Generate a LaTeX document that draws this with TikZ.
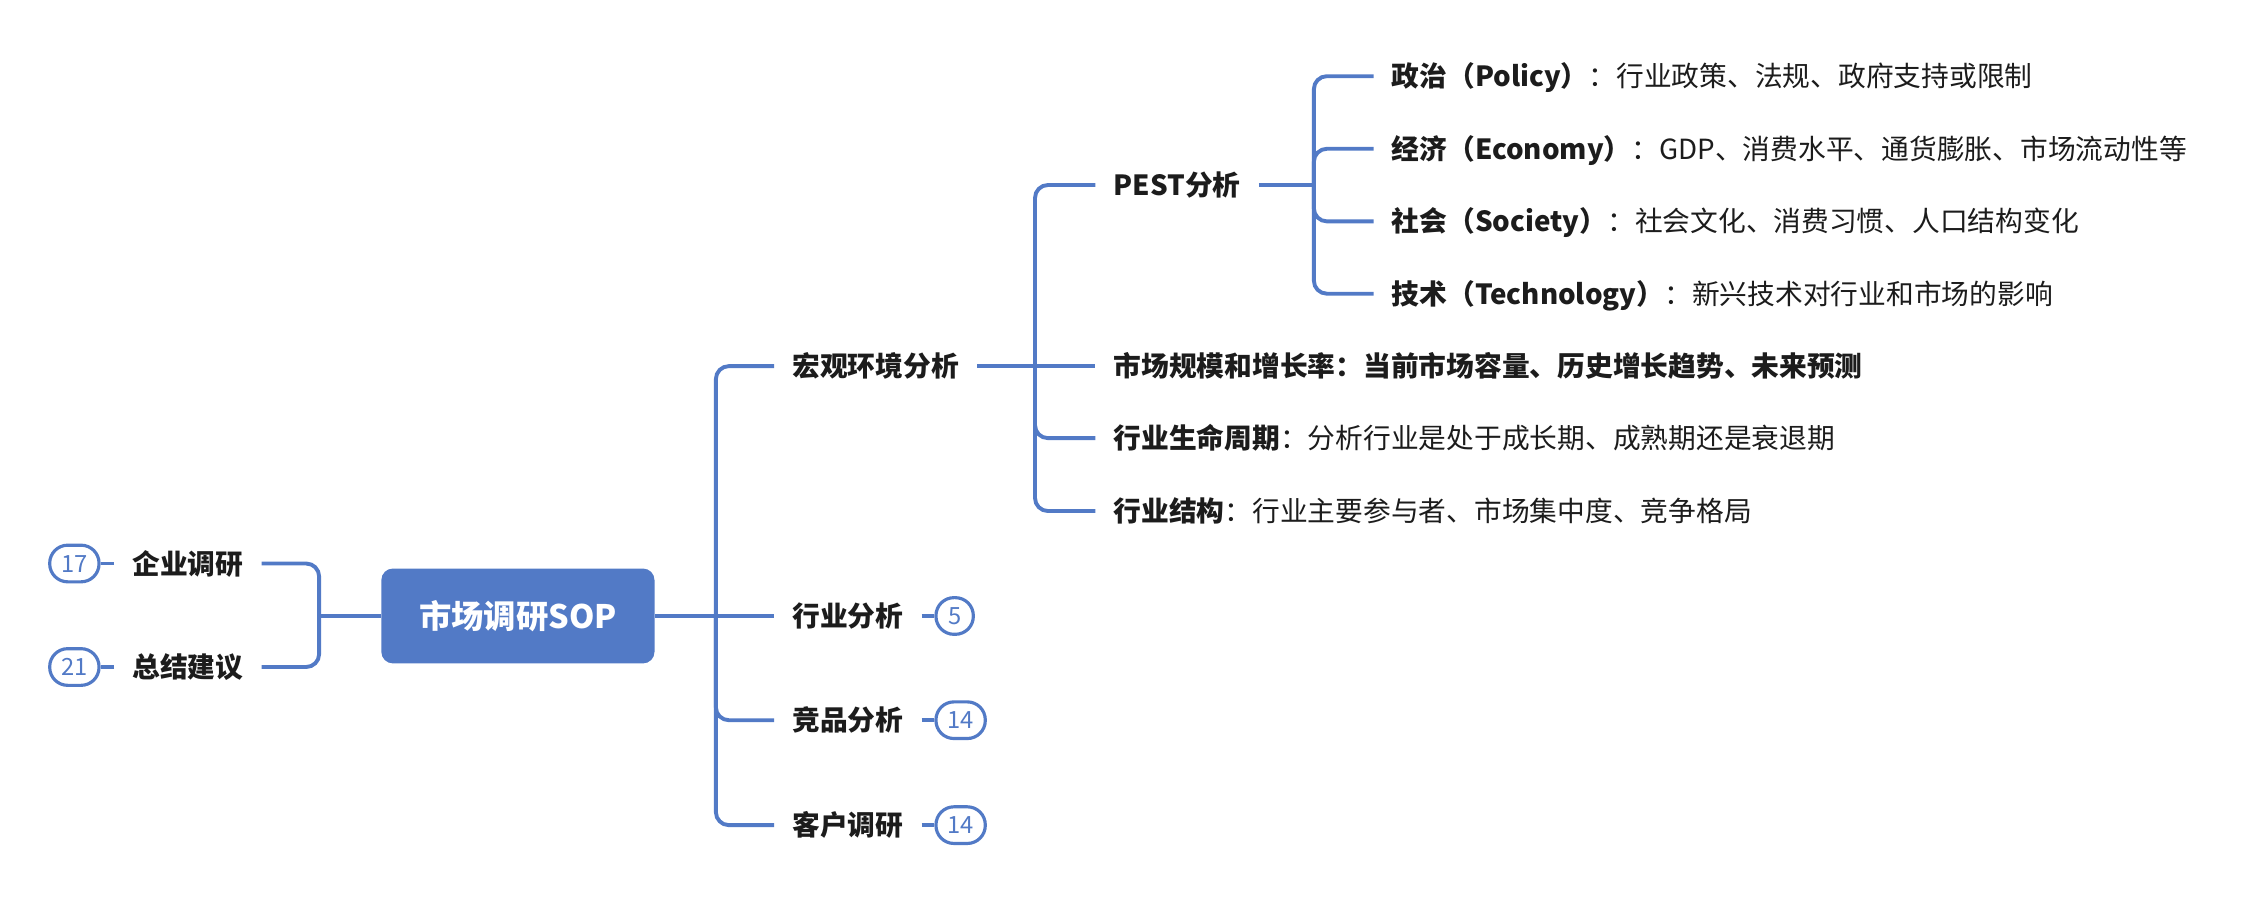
\documentclass[tikz,border=0pt]{standalone}
\usepackage{fontspec}
\setmainfont{Noto Sans CJK SC}
\definecolor{lineblue}{RGB}{82,122,198}
\definecolor{txtdark}{RGB}{28,28,28}
\definecolor{txtreg}{RGB}{40,40,40}
\begin{document}
\begin{tikzpicture}[x=1pt,y=-1pt,
  conn/.style={draw=lineblue, line width=2.7pt, rounded corners=9pt},
  lbl/.style={inner xsep=12.5pt, inner ysep=0pt, text height=15.05pt, text depth=0.4pt,
    font=\fontsize{19.3}{23}\selectfont, text=txtdark},
  badge/.style={draw=lineblue, line width=2.2pt, fill=white, rounded corners=12.5pt,
    minimum height=25.5pt, minimum width=26pt, inner xsep=8pt, inner ysep=0pt,
    text height=12pt, text depth=0pt, font=\fontsize{16.5}{16.5}\selectfont, text=lineblue},
  rootbox/.style={fill=lineblue, rounded corners=8pt, minimum width=190pt, minimum height=66pt,
    text=white, font=\fontsize{22.5}{26}\selectfont\bfseries, text height=17.5pt, text depth=0.5pt}
]
\useasboundingbox (0,0) rectangle (1568,627.5);

% root
\node[rootbox] (root) at (360.3,428.5) {市场调研SOP};

% left side
\node[lbl, anchor=east, font=\fontsize{19.3}{23}\selectfont\bfseries] (qiye) at (182,392) {企业调研};
\node[lbl, anchor=east, font=\fontsize{19.3}{23}\selectfont\bfseries] (zongjie) at (182,464) {总结建议};
\node[badge, anchor=east] (b17) at (70,392) {17};
\node[badge, anchor=east] (b21) at (70,464) {21};
\coordinate (lbus) at (222,428.5);
\draw[conn] (root.west) -- (lbus);
\draw[conn] (lbus) |- (qiye.east);
\draw[conn] (lbus) |- (zongjie.east);
\draw[conn] (qiye.west) -- (b17.east);
\draw[conn] (zongjie.west) -- (b21.east);

% level 1 right
\node[lbl, anchor=west, font=\fontsize{19.3}{23}\selectfont\bfseries] (macro) at (538.5,254.7) {宏观环境分析};
\node[lbl, anchor=west, font=\fontsize{19.3}{23}\selectfont\bfseries] (hangye) at (538.5,428.5) {行业分析};
\node[lbl, anchor=west, font=\fontsize{19.3}{23}\selectfont\bfseries] (jingpin) at (538.5,501) {竞品分析};
\node[lbl, anchor=west, font=\fontsize{19.3}{23}\selectfont\bfseries] (kehu) at (538.5,574) {客户调研};
\node[badge, anchor=west] (b5) at (650,428.5) {5};
\node[badge, anchor=west] (b14a) at (650,501) {14};
\node[badge, anchor=west] (b14b) at (650,574) {14};
\coordinate (rbus) at (498,428.5);
\draw[conn] (root.east) -- (hangye.west);
\draw[conn] (rbus) |- (macro.west);
\draw[conn] (rbus) |- (jingpin.west);
\draw[conn] (rbus) |- (kehu.west);
\draw[conn] (hangye.east) -- (b5.west);
\draw[conn] (jingpin.east) -- (b14a.west);
\draw[conn] (kehu.east) -- (b14b.west);

% level 2
\node[lbl, anchor=west, font=\fontsize{19.3}{23}\selectfont\bfseries] (pest) at (762,128.7) {PEST分析};
\node[lbl, anchor=west, font=\fontsize{19.3}{23}\selectfont\bfseries] (scale) at (762,254.7) {市场规模和增长率：当前市场容量、历史增长趋势、未来预测};
\node[lbl, anchor=west] (life) at (762,304.8) {\textbf{行业生命周期}：分析行业是处于成长期、成熟期还是衰退期};
\node[lbl, anchor=west] (struct) at (762,355.5) {\textbf{行业结构}：行业主要参与者、市场集中度、竞争格局};
\coordinate (mbus) at (720,254.7);
\draw[conn] (macro.east) -- (scale.west);
\draw[conn] (mbus) |- (pest.west);
\draw[conn] (mbus) |- (life.west);
\draw[conn] (mbus) |- (struct.west);

% level 3
\node[lbl, anchor=west] (policy) at (955.5,53) {\textbf{政治（Policy）}：行业政策、法规、政府支持或限制};
\node[lbl, anchor=west] (economy) at (955.5,103.5) {\textbf{经济（Economy）}：GDP、消费水平、通货膨胀、市场流动性等};
\node[lbl, anchor=west] (society) at (955.5,154) {\textbf{社会（Society）}：社会文化、消费习惯、人口结构变化};
\node[lbl, anchor=west] (tech) at (955.5,204.3) {\textbf{技术（Technology）}：新兴技术对行业和市场的影响};
\coordinate (pbus) at (914,128.7);
\draw[conn] (pest.east) -- (pbus);
\draw[conn] (pbus) |- (policy.west);
\draw[conn] (pbus) |- (economy.west);
\draw[conn] (pbus) |- (society.west);
\draw[conn] (pbus) |- (tech.west);
\end{tikzpicture}
\end{document}
